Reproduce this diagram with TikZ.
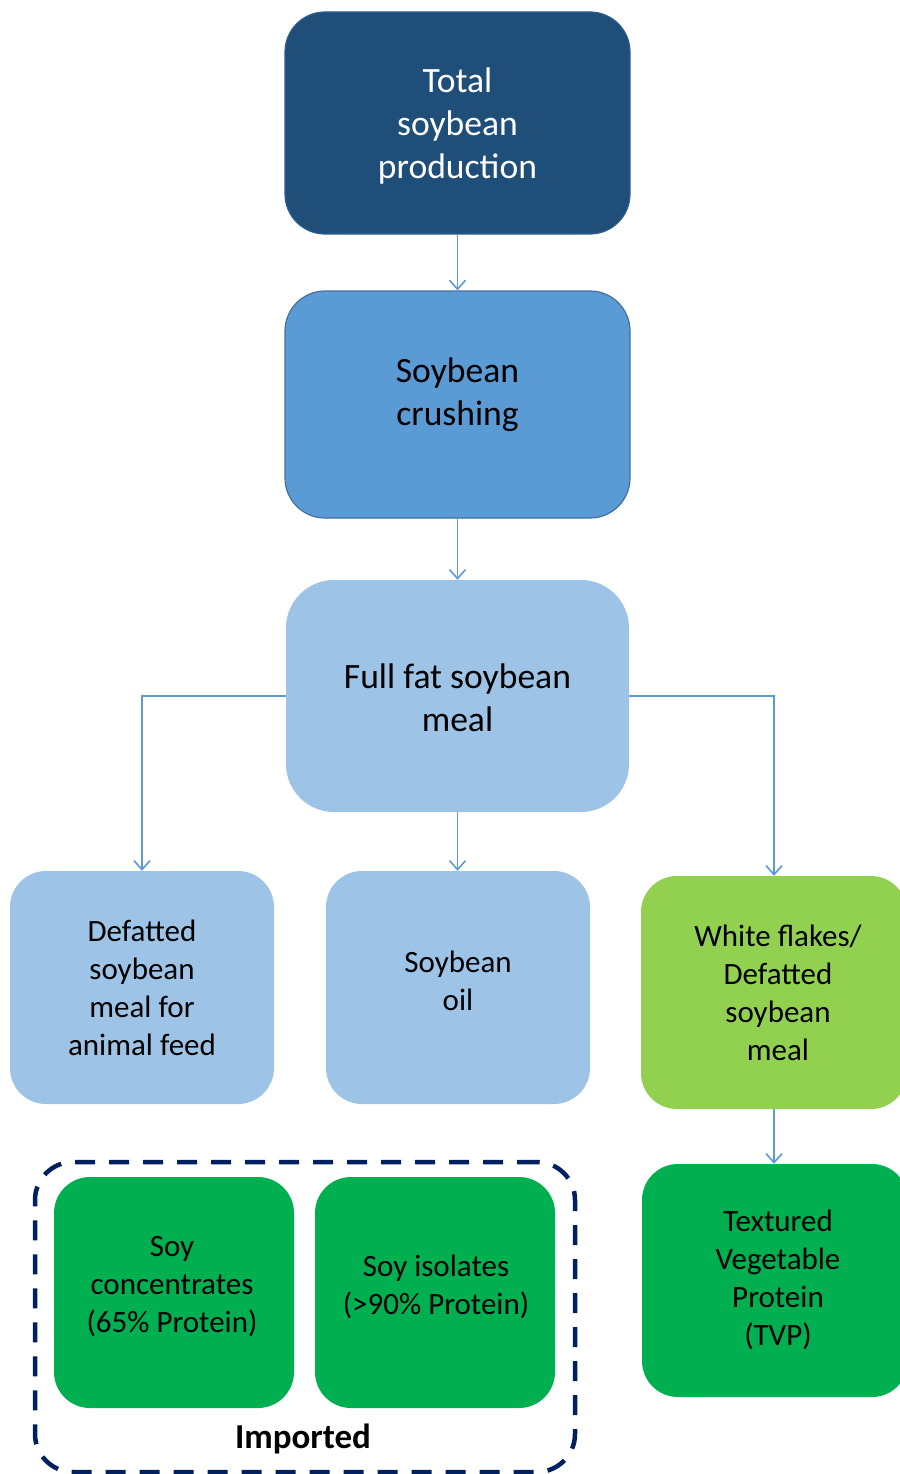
\documentclass[tikz,border=0pt]{standalone}
\usepackage{fontspec}
\setmainfont{Carlito}
\usetikzlibrary{arrows.meta}
\definecolor{cdark}{HTML}{1F4E79}
\definecolor{cdarkb}{HTML}{2F5F8F}
\definecolor{cmid}{HTML}{5B9BD5}
\definecolor{cmidb}{HTML}{41719C}
\definecolor{clight}{HTML}{9DC3E6}
\definecolor{clgreen}{HTML}{92D050}
\definecolor{cgreen}{HTML}{00B050}
\definecolor{cnavy}{HTML}{002060}
\definecolor{carrow}{HTML}{5B9BD5}
\tikzset{
  box/.style={rectangle, inner sep=0pt, minimum width=#1},
  bigtxt/.style={align=center, font=\fontsize{35.6}{43}\selectfont, inner sep=0pt},
  smtxt/.style={align=center, font=\fontsize{31}{38}\selectfont, inner sep=0pt},
  conn/.style={draw=carrow, line width=1.6pt, -{Straight Barb[length=9pt,width=16pt,line width=1.6pt]}},
}
\begin{document}
\begin{tikzpicture}[x=1pt,y=-1pt]
\useasboundingbox (0,0) rectangle (899,1474);
% top boxes
\node (total) [box=345pt, minimum height=222pt, rounded corners=40pt, fill=cdark, draw=cdarkb, line width=1.2pt] at (457.5,123) {};
\node (totaltxt) [bigtxt, text=white] at (457.5,126) {Total\\soybean\\production};
\node (crush) [box=345pt, minimum height=227pt, rounded corners=40pt, fill=cmid, draw=cmidb, line width=1.2pt] at (457.5,404.5) {};
\node (crushtxt) [bigtxt] at (457.5,395) {Soybean\\crushing};
\node (full) [box=343pt, minimum height=232pt, rounded corners=48pt, fill=clight] at (457.5,696) {};
\node (fulltxt) [bigtxt] at (457.5,698) {Full fat soybean\\meal};
% middle row
\node (def) [box=264pt, minimum height=233pt, rounded corners=36pt, fill=clight] at (142,987.5) {};
\node (deftxt) [smtxt] at (142,988) {Defatted\\soybean\\meal for\\animal feed};
\node (oil) [box=264pt, minimum height=233pt, rounded corners=36pt, fill=clight] at (458,987.5) {};
\node (oiltxt) [smtxt] at (458,981) {Soybean\\oil};
\node (white) [box=266pt, minimum height=233pt, rounded corners=36pt, fill=clgreen] at (774,992.5) {};
\node (whitetxt) [smtxt] at (778,993) {White flakes/\\Defatted\\soybean\\meal};
% bottom row
\node (tvp) [box=266pt, minimum height=233pt, rounded corners=36pt, fill=cgreen] at (775,1280.5) {};
\node (tvptxt) [smtxt] at (778,1280) {Textured\\Vegetable\\Protein\\(TVP)};
\node (imp) [box=540pt, minimum height=310pt, rounded corners=38pt, draw=cnavy, line width=4.5pt, dash pattern=on 20pt off 14pt] at (305,1317) {};
\node (conc) [box=240pt, minimum height=231pt, rounded corners=36pt, fill=cgreen] at (174,1292.5) {};
\node (conctxt) [smtxt] at (172,1287) {Soy\\concentrates\\(65\% Protein)};
\node (iso) [box=240pt, minimum height=231pt, rounded corners=36pt, fill=cgreen] at (435,1292.5) {};
\node (isotxt) [smtxt] at (436,1287) {Soy isolates\\(>90\% Protein)};
\node (imptxt) [inner sep=0pt, font=\fontsize{35}{42}\selectfont\bfseries] at (303,1439) {Imported};
% connectors
\draw[conn] (total.south) -- (crush.north);
\draw[conn] (crush.south) -- (full.north);
\draw[conn] (full.south) -- (full.south |- oil.north);
\draw[conn] (full.west) -| (def.north);
\draw[conn] (full.east) -| (white.north);
\draw[conn] (white.south) -- (white.south |- tvp.north);
\end{tikzpicture}
\end{document}
